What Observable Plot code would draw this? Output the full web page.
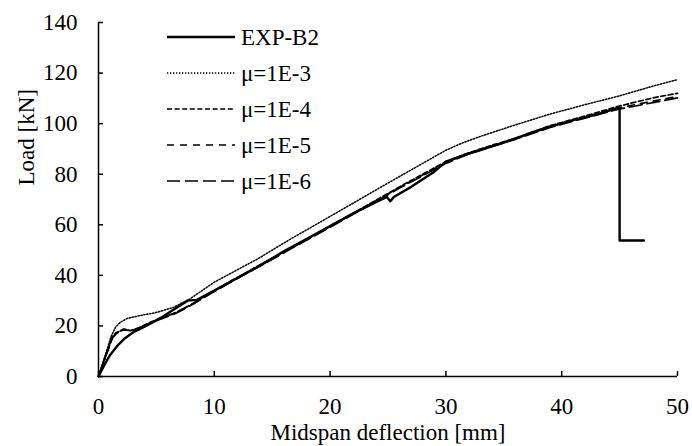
<!DOCTYPE html>
<html>
<head>
<meta charset="utf-8">
<script src="https://cdn.jsdelivr.net/npm/d3@7"></script>
<script src="https://cdn.jsdelivr.net/npm/@observablehq/plot@0.6"></script>
<style>
  html, body { margin: 0; padding: 0; background: #fff; }
  #wrap { position: relative; width: 692px; height: 446px; }
  #legend { position: absolute; left: 0; top: 0; }
</style>
</head>
<body>
<div id="wrap"></div>
<script>
// ---- data ----
const seriesNames = ["EXP-B2", "μ=1E-3", "μ=1E-4", "μ=1E-5", "μ=1E-6"];

const expD = [0,0.5,1,1.6,2.2,3,3.6,4.5,5.5,6.5,7.7,8.5,10,12,14,16,18,20,22,24,24.9,25.2,25.5,27,29,30,32,35,37,39,41,43,45,45,47.1];
const expL = [0,4.5,8.5,12,14.8,17.5,18.8,21,23.5,26.5,30,30.3,34,39,44,49.5,54.5,59.5,64.5,69,71,69.3,71,75,81,85,88.2,92.5,95.8,98.8,101.4,103.6,106.4,53.8,53.8];

const m3D = [0,1.1,1.47,1.9,2.5,3.6,5.07,6.5,7.9,10,13.7,16.6,20,25,28,30,31.5,33,36,39,42,45,48,50];
const m3L = [0,16,19.5,21.5,23,24.1,25.4,27.4,30.7,37.3,46.4,54.4,63.3,76.5,84.3,89.5,92.5,95,99.5,103.8,107.5,111,115,117.4];

const m4D = [0,1.18,1.5,2.2,2.76,3.1,3.6,4.5,5.5,6.5,8,10,12,14,16,18,20,22,24,26,28,30,31.8,34,36,39,42,45,48,50];
const m4L = [0,15.6,17.3,18.8,18.2,18.6,19.5,21.5,23.2,24.9,28.5,34,39.2,44.3,49.3,54.4,59.5,64.6,69.8,75,80,85,88.2,91.5,94.2,99.2,103,107,110.3,112];

const m5D = [0,1.2,1.6,2.3,2.8,3.2,3.7,4.6,5.6,6.6,8,10,12,14,16,18,20,22,24,26,28,30,32,34,36,39,42,45,48,50];
const m5L = [0,15.4,17.6,18.5,18.0,18.8,19.6,21.3,23.4,25.2,28.3,33.8,39.0,44.0,49.0,54.2,59.3,64.4,69.6,74.8,79.7,84.6,88.3,91.2,94.0,98.8,102.6,106.3,109.0,110.8];

const m6D = [0,1.2,1.55,2.1,2.7,3.2,3.8,4.7,5.7,6.7,8,10,12,14,16,18,20,22,24,26,28,30,32,34,36,39,42,45,48,50];
const m6L = [0,15.2,17.0,18.6,18.1,18.5,19.8,21.6,23.3,25.0,28.2,33.6,38.8,43.8,48.9,54.0,59.0,64.2,69.3,74.5,79.4,84.3,88.0,91.0,93.8,98.5,102.2,105.8,108.4,110.2];

const xTicks = [0, 10, 20, 30, 40, 50];
const yTicks = [0, 20, 40, 60, 80, 100, 120, 140];
const xLabel = "Midspan deflection [mm]";
const yLabel = "Load [kN]";

// ---- styles ----
const styles = [
  {dash: null, width: 2.4},
  {dash: "1.3,1.7", width: 1.5},
  {dash: "5,2.6", width: 1.7},
  {dash: "7,6", width: 1.6},
  {dash: "13,5", width: 1.7}
];

const seriesD = [expD, m3D, m4D, m5D, m6D];
const seriesL = [expL, m3L, m4L, m5L, m6L];
const rows = [];
seriesNames.forEach((name, i) => {
  seriesD[i].forEach((d, j) => rows.push({series: name, d, L: seriesL[i][j]}));
});

const font = "'Liberation Serif', 'Times New Roman', serif";
const fs = 23;

const lineMarks = seriesNames.slice().reverse().map((name) => {
  const i = seriesNames.indexOf(name);
  return Plot.line(rows.filter(r => r.series === name), {
    x: "d", y: "L", stroke: "black",
    strokeWidth: styles[i].width,
    strokeDasharray: styles[i].dash || undefined,
    strokeLinejoin: "round"
  });
});

const chart = Plot.plot({
  width: 692,
  height: 446,
  marginLeft: 98,
  marginRight: 15,
  marginTop: 22,
  marginBottom: 70,
  style: {fontFamily: font, fontSize: fs + "px", color: "black", background: "white"},
  x: {domain: [0, 50]},
  y: {domain: [0, 140]},
  marks: [
    Plot.axisX(xTicks, {tickSize: -5, tickPadding: 26, strokeWidth: 1.5, label: null, fontSize: fs, fontFamily: font}),
    Plot.axisY(yTicks, {tickSize: -5, tickPadding: 26, strokeWidth: 1.5, label: null, fontSize: fs, fontFamily: font}),
    Plot.ruleX([0], {strokeWidth: 1.5}),
    Plot.ruleY([0], {strokeWidth: 1.5}),
    ...lineMarks,
    Plot.text([xLabel], {frameAnchor: "bottom", text: d => d, dy: 56, fontSize: fs, fontFamily: font, lineAnchor: "middle"}),
    Plot.text([yLabel], {frameAnchor: "left", text: d => d, rotate: -90, dx: -72, dy: -14, fontSize: fs, fontFamily: font, lineAnchor: "middle"})
  ]
});

const wrap = document.getElementById("wrap");
wrap.appendChild(chart);

// ---- legend overlay ----
const ns = "http://www.w3.org/2000/svg";
const leg = document.createElementNS(ns, "svg");
leg.setAttribute("id", "legend");
leg.setAttribute("width", 692);
leg.setAttribute("height", 446);
leg.style.pointerEvents = "none";
seriesNames.forEach((name, i) => {
  const y = 37 + i * 36;
  const ln = document.createElementNS(ns, "line");
  ln.setAttribute("x1", 167); ln.setAttribute("x2", 235);
  ln.setAttribute("y1", y); ln.setAttribute("y2", y);
  ln.setAttribute("stroke", "black");
  ln.setAttribute("stroke-width", styles[i].width);
  if (styles[i].dash) ln.setAttribute("stroke-dasharray", styles[i].dash);
  leg.appendChild(ln);
  const tx = document.createElementNS(ns, "text");
  tx.setAttribute("x", 241);
  tx.setAttribute("y", y);
  tx.setAttribute("dy", "0.35em");
  tx.setAttribute("font-family", font);
  tx.setAttribute("font-size", fs);
  tx.textContent = name;
  leg.appendChild(tx);
});
wrap.appendChild(leg);
</script>
</body>
</html>
